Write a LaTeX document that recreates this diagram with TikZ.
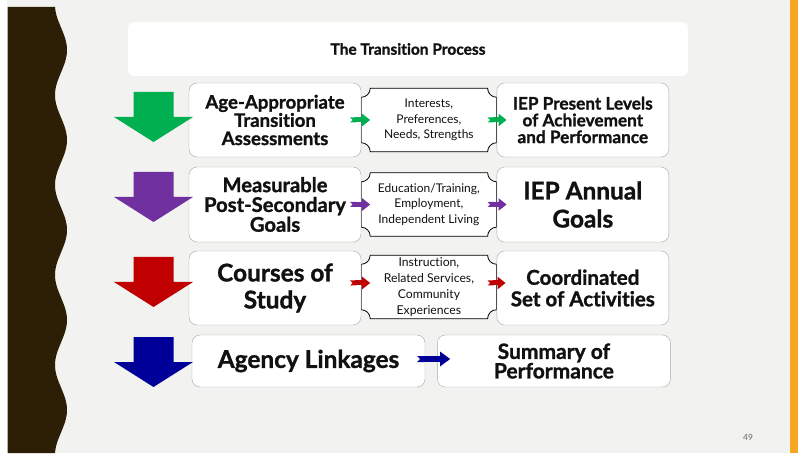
\documentclass[tikz,border=0pt]{standalone}
\usepackage{fontspec}
\setmainfont{Lato}[Ligatures=NoCommon,BoldFeatures={FakeBold=1.2}]
\usetikzlibrary{arrows.meta,positioning,backgrounds}
\definecolor{slide}{HTML}{F2F2F0}
\definecolor{bark}{HTML}{2D1E06}
\definecolor{amber}{HTML}{F5A623}
\definecolor{edge}{HTML}{A8A8A8}
\definecolor{ink}{HTML}{111111}
\definecolor{stepgreen}{HTML}{00B050}
\definecolor{steppurple}{HTML}{7030A0}
\definecolor{stepred}{HTML}{C00000}
\definecolor{stepblue}{HTML}{000099}
\tikzset{
  every node/.style={text=ink},
  titlebar/.style={fill=white,rounded corners=6pt,minimum width=560pt,minimum height=54pt,font=\bfseries\fontsize{15.5}{16}\selectfont},
  card/.style={draw=edge,rounded corners=8pt,fill=white,align=center,inner sep=1pt,minimum width=172pt,minimum height=74pt},
  plaque/.style={align=center,inner sep=0pt,minimum width=135pt,minimum height=63pt,font=\fontsize{12}{15.5}\selectfont},
  plaqueline/.style={draw=black,fill=white,line width=0.8pt},
  link/.style={line width=5pt,{Triangle Cap[reversed]}-{Triangle[length=8pt,width=12pt]}},
}

\begin{document}
\begin{tikzpicture}[x=1pt,y=1pt]
\useasboundingbox (0,0) rectangle (798,453);

% slide background, wavy band and side bar
\begin{scope}[on background layer]
\fill[white] (0,0) rectangle (798,453);
\fill[slide] (7,0) rectangle (790,453);
\fill[bark] (8,0) -- plot[domain=0:446,samples=200,variable=\t] ({61+6*cos(4*(403-\t))},\t) -- (8,446) -- cycle;
\draw[gray!60,line width=0.6pt] (7.5,0) -- (7.5,446);
\fill[amber] (790,0) rectangle (798,453);
\end{scope}

\node[titlebar] (title) at (408,404) {The Transition Process};

% row 1
\node[card,font=\bfseries\fontsize{18.6}{18.2}\selectfont] (assess) at (275,333) {Age-Appropriate\\Transition\\Assessments};
\node[plaque,right=0pt of assess] (needs) {Interests,\\Preferences,\\Needs, Strengths};
\node[card,right=0pt of needs,font=\bfseries\fontsize{17.2}{16.8}\selectfont] (plaafp) {IEP Present Levels\\of Achievement\\and Performance};

% row 2
\node[card,minimum height=75pt,font=\bfseries\fontsize{20.2}{19.8}\selectfont] (postgoals) at (275,248.5) {Measurable\\Post-Secondary\\Goals};
\node[plaque,right=0pt of postgoals] (areas) {Education/Training,\\Employment,\\Independent Living};
\node[card,minimum height=75pt,right=0pt of areas,font=\bfseries\fontsize{24.4}{28}\selectfont] (annual) {IEP Annual\\Goals};

% row 3
\node[card,font=\bfseries\fontsize{24.4}{27}\selectfont] (courses) at (275,165) {Courses of\\Study};
\node[plaque,right=0pt of courses,yshift=1pt,font=\fontsize{12.2}{16}\selectfont] (services) {Instruction,\\Related Services,\\Community\\Experiences};
\node[card,right=0pt of services,yshift=-1pt,font=\bfseries\fontsize{20.5}{21.5}\selectfont] (activities) {Coordinated\\Set of Activities};

% row 4
\node[card,minimum width=233pt,minimum height=52pt,font=\bfseries\fontsize{24.4}{24}\selectfont] (agency) at (308.5,92) {Agency Linkages};
\node[card,minimum width=233pt,minimum height=52pt,right=12pt of agency,font=\bfseries\fontsize{21}{19.5}\selectfont] (summary) {Summary of\\Performance};

% scroll outlines behind the middle texts
\begin{scope}[on background layer]
\foreach \n in {needs,areas,services}
  \draw[plaqueline] ([xshift=9pt]\n.north west) -- ([xshift=-9pt]\n.north east)
    arc[start angle=180,end angle=270,radius=9pt] -- ([yshift=9pt]\n.south east)
    arc[start angle=90,end angle=180,radius=9pt] -- ([xshift=9pt]\n.south west)
    arc[start angle=0,end angle=90,radius=9pt] -- ([yshift=-9pt]\n.north west)
    arc[start angle=270,end angle=360,radius=9pt] -- cycle;
\end{scope}

% big down arrows
\foreach \c/\y in {stepgreen/361,steppurple/281,stepred/196,stepblue/116}
  \fill[\c] (133.5,\y) -- (173.5,\y) -- (173.5,\y-25) -- (193,\y-25) -- (153.5,\y-50) -- (114,\y-25) -- (133.5,\y-25) -- cycle;

% small arrows between the boxes
\draw[link,stepgreen] ([xshift=-11pt]assess.east) -- ([xshift=9pt]assess.east);
\draw[link,stepgreen] ([xshift=-9pt]needs.east) -- ([xshift=10pt]needs.east);
\draw[link,steppurple] ([xshift=-11pt]postgoals.east) -- ([xshift=9pt]postgoals.east);
\draw[link,steppurple] ([xshift=-9pt]areas.east) -- ([xshift=10pt]areas.east);
\draw[link,stepred] ([xshift=-11pt,yshift=5pt]courses.east) -- ([xshift=9pt,yshift=5pt]courses.east);
\draw[link,stepred] ([xshift=-9pt,yshift=4pt]services.east) -- ([xshift=9pt,yshift=4pt]services.east);
\draw[link,stepblue,line width=6pt,{Triangle Cap[reversed]}-{Triangle[length=10pt,width=14pt]}] ([xshift=-8pt,yshift=2pt]agency.east) -- ([xshift=13pt,yshift=2pt]summary.west);

\node[font=\fontsize{8.5}{8.5}\selectfont,text=gray!80!black] (pageno) at (748,16) {49};
\end{tikzpicture}
\end{document}
